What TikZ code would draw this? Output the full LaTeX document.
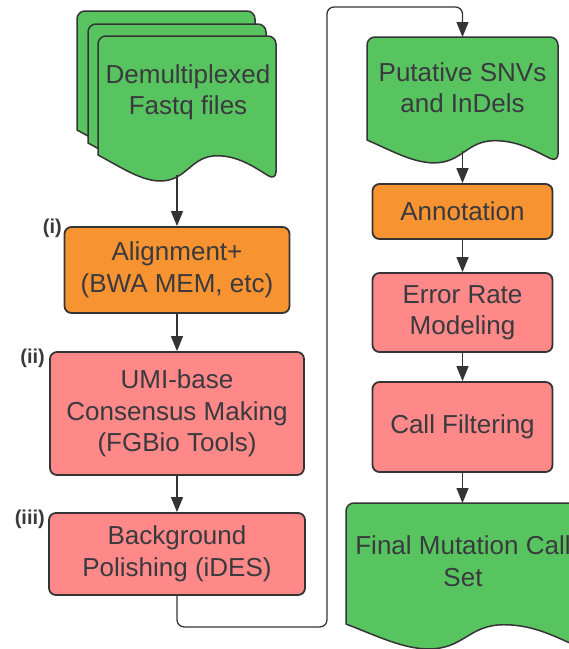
\documentclass[tikz,border=0pt]{standalone}
\usepackage{fontspec}
\setmainfont{Liberation Sans}
\usetikzlibrary{arrows.meta,calc}

\definecolor{docgreen}{RGB}{88,196,96}
\definecolor{steporange}{RGB}{247,147,48}
\definecolor{steppink}{RGB}{255,137,137}
\definecolor{inkgray}{RGB}{58,58,62}
\definecolor{edgegray}{RGB}{52,52,52}

% Document shape with rounded top corners and a wavy bottom edge.
% #1 = left x, #2 = top y, #3 = right x, #4 = y of the left bottom end,
% #5 = depth of the wave, #6 = extra path options
\newcommand\wavedoc[6]{%
  \path[docshape,#6] (#1,#4) [rounded corners=8pt] -- (#1,#2) -- (#3,#2)
    -- (#3,{#4+#5}) [sharp corners]
    .. controls ({#1+0.90*(#3-#1)},{#4+0.60*#5}) and ({#1+0.80*(#3-#1)},{#4+0.03*#5})
    .. ({#1+0.67*(#3-#1)},{#4+0.03*#5})
    .. controls ({#1+0.52*(#3-#1)},{#4+0.03*#5}) and ({#1+0.50*(#3-#1)},{#4+1.04*#5})
    .. ({#1+0.35*(#3-#1)},{#4+1.04*#5})
    .. controls ({#1+0.24*(#3-#1)},{#4+1.04*#5}) and ({#1+0.12*(#3-#1)},{#4+0.45*#5})
    .. (#1,#4) -- cycle;}

\begin{document}
\begin{tikzpicture}[x=1pt,y=-1pt,
  docshape/.style={fill=docgreen,draw=edgegray,line width=1.5pt},
  stepbox/.style={draw=edgegray,line width=1.8pt,rounded corners=7pt,
    align=center,text=inkgray,inner sep=0pt,
    font=\fontsize{26}{31.5}\selectfont},
  orangebox/.style={stepbox,fill=steporange},
  pinkbox/.style={stepbox,fill=steppink},
  doctext/.style={align=center,text=inkgray,inner sep=0pt,
    font=\fontsize{26}{31.5}\selectfont},
  steplabel/.style={anchor=east,inner sep=0pt,text=inkgray,
    font=\bfseries\fontsize{20}{24}\selectfont},
  flow/.style={draw=edgegray,line width=1.3pt,
    -{Triangle[length=15pt,width=12pt]}}]

\useasboundingbox (0,0) rectangle (569,649);
\clip (0,0) rectangle (569,649);

% stacked input files
\wavedoc{77}{11}{255}{130}{25}{}
\wavedoc{88}{24}{266}{143}{25}{}
\wavedoc{98}{36}{276}{155}{25}{}
\node[doctext] (demux) at (188,92.5) {Demultiplexed\\Fastq files};
\coordinate (demuxout) at (177,175);

% intermediate call set
\wavedoc{367}{37}{558}{140}{22}{}
\node[doctext] (putative) at (462.5,87.5) {Putative SNVs\\and InDels};
\coordinate (puttop) at (462.5,37);
\coordinate (putout) at (462.5,151);

% final call set
\wavedoc{346}{503}{582}{624}{24}{}
\node[doctext] (final) at (463,561) {Final Mutation Call\\Set};

% left column of processing steps
\node[orangebox,minimum width=225pt,minimum height=86pt] (align) at (177,270)
  {Alignment+\\(BWA MEM, etc)};
\node[pinkbox,minimum width=254pt,minimum height=123pt] (umi) at (177,413.5)
  {UMI-base\\Consensus Making\\(FGBio Tools)};
\node[pinkbox,minimum width=256pt,minimum height=82pt] (bg) at (177,554)
  {Background\\Polishing (iDES)};

\node[steplabel] (labi) at (62,228) {(i)};
\node[steplabel] (labii) at (45,358) {(ii)};
\node[steplabel] (labiii) at (45,519) {(iii)};

% right column of processing steps
\node[orangebox,minimum width=180pt,minimum height=55pt] (annot) at (462.5,211.5)
  {Annotation};
\node[pinkbox,minimum width=180pt,minimum height=79pt] (err) at (462.5,312.5)
  {Error Rate\\Modeling};
\node[pinkbox,minimum width=180pt,minimum height=90pt] (callf) at (462.5,427)
  {Call Filtering};
\coordinate (finaltop) at (462.5,503);

% connectors
\coordinate (route) at (327,7);
\draw[flow] (demuxout) -- (align.north);
\draw[flow] (align.south) -- (umi.north);
\draw[flow] (umi.south) -- (bg.north);
\draw[flow,rounded corners=7pt] (bg.south) -- ++(0,31) -| (route) -| (puttop);
\draw[flow] (putout) -- (annot.north);
\draw[flow] (annot.south) -- (err.north);
\draw[flow] (err.south) -- (callf.north);
\draw[flow] (callf.south) -- (finaltop);
\end{tikzpicture}
\end{document}
